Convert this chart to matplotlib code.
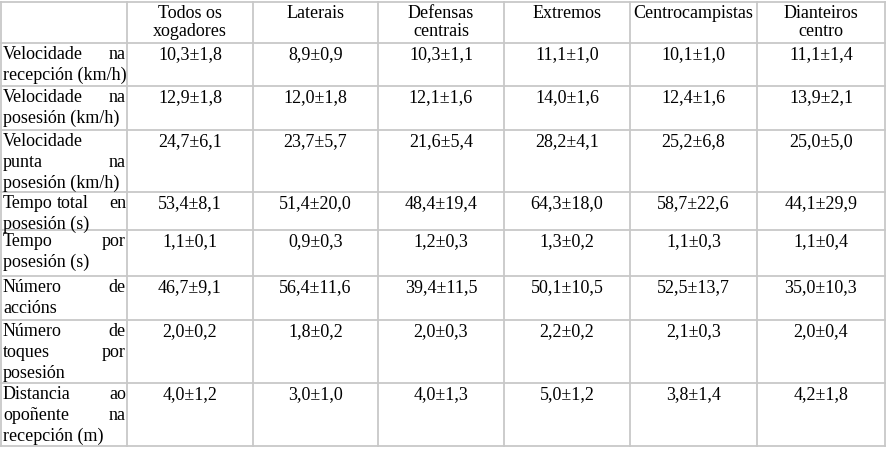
import matplotlib
matplotlib.use("Agg")
from matplotlib import pyplot as plt

# Header and data
headers = ["Todos os\nxogadores", "Laterais", "Defensas\ncentrais", "Extremos",
           "Centrocampistas", "Dianteiros\ncentro"]
row_labels = [
    [["Velocidade", "na"], ["recepción (km/h)"]],
    [["Velocidade", "na"], ["posesión (km/h)"]],
    [["Velocidade"], ["punta", "na"], ["posesión (km/h)"]],
    [["Tempo", "total", "en"], ["posesión (s)"]],
    [["Tempo", "por"], ["posesión (s)"]],
    [["Número", "de"], ["accións"]],
    [["Número", "de"], ["toques", "por"], ["posesión"]],
    [["Distancia", "ao"], ["opoñente", "na"], ["recepción (m)"]],
]
values = [
    ["10,3±1,8", "8,9±0,9", "10,3±1,1", "11,1±1,0", "10,1±1,0", "11,1±1,4"],
    ["12,9±1,8", "12,0±1,8", "12,1±1,6", "14,0±1,6", "12,4±1,6", "13,9±2,1"],
    ["24,7±6,1", "23,7±5,7", "21,6±5,4", "28,2±4,1", "25,2±6,8", "25,0±5,0"],
    ["53,4±8,1", "51,4±20,0", "48,4±19,4", "64,3±18,0", "58,7±22,6", "44,1±29,9"],
    ["1,1±0,1", "0,9±0,3", "1,2±0,3", "1,3±0,2", "1,1±0,3", "1,1±0,4"],
    ["46,7±9,1", "56,4±11,6", "39,4±11,5", "50,1±10,5", "52,5±13,7", "35,0±10,3"],
    ["2,0±0,2", "1,8±0,2", "2,0±0,3", "2,2±0,2", "2,1±0,3", "2,0±0,4"],
    ["4,0±1,2", "3,0±1,0", "4,0±1,3", "5,0±1,2", "3,8±1,4", "4,2±1,8"],
]

col_x = [1, 127, 253, 378, 504, 630, 757, 885]
row_y = [2, 43, 86, 130, 192, 230, 276, 320, 383, 446]

plt.rcParams['font.family'] = ['Liberation Serif', 'DejaVu Serif']
fig = plt.figure(figsize=(8.87, 4.49), dpi=100)
ax = fig.add_axes([0, 0, 1, 1])
ax.set_xlim(0, 887)
ax.set_ylim(449, 0)
ax.axis('off')

lc = '#c8c8c8'
for x in col_x:
    ax.plot([x, x], [row_y[0], row_y[-1]], color=lc, lw=1.3)
for y in row_y:
    ax.plot([col_x[0], col_x[-1]], [y, y], color=lc, lw=1.3)

fs = 13
lh = 21

for j, h in enumerate(headers):
    cx = (col_x[j + 1] + col_x[j + 2]) / 2
    ax.text(cx, row_y[0] + 3, h, ha='center', va='top', fontsize=fs, linespacing=1.1)

for i, lines in enumerate(row_labels):
    top = row_y[i + 1] + 3
    x0, x1 = col_x[0] + 2, col_x[1] - 1
    for k, words in enumerate(lines):
        y = top + k * lh
        last = k == len(lines) - 1
        if last or len(words) == 1:
            ax.text(x0, y, " ".join(words), ha='left', va='top', fontsize=fs)
        else:
            n = len(words)
            for m, w in enumerate(words):
                if m == 0:
                    ax.text(x0, y, w, ha='left', va='top', fontsize=fs)
                elif m == n - 1:
                    ax.text(x1, y, w, ha='right', va='top', fontsize=fs)
                else:
                    ax.text(x0 + (x1 - x0) * m / (n - 1) + 8, y, w, ha='center', va='top', fontsize=fs)
    for j, v in enumerate(values[i]):
        cx = (col_x[j + 1] + col_x[j + 2]) / 2
        ax.text(cx, top, v, ha='center', va='top', fontsize=fs)

fig.savefig('out.png', dpi=100, facecolor='white')
